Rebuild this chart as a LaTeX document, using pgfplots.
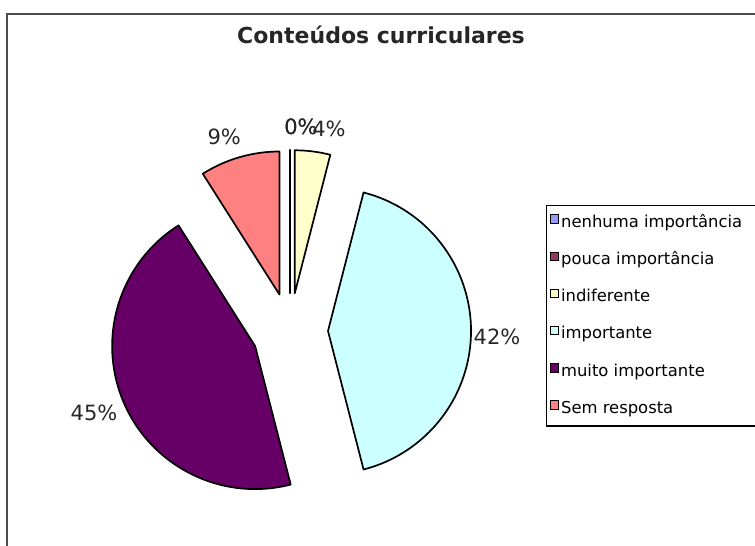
\documentclass[border=0pt]{standalone}
\usepackage{fontspec}
\setmainfont{DejaVu Sans}
\usepackage{pgfplots}
\usepackage{pgfplotstable}
\pgfplotsset{compat=1.18}
\usetikzlibrary{calc}

% Excel 2003 default pie colours
\definecolor{sc0}{HTML}{9999FF}
\definecolor{sc1}{HTML}{993366}
\definecolor{sc2}{HTML}{FFFFCC}
\definecolor{sc3}{HTML}{CCFFFF}
\definecolor{sc4}{HTML}{660066}
\definecolor{sc5}{HTML}{FF8080}

% share of answers, clockwise from 12 o'clock; lx/ly nudge the labels (pt)
\pgfplotstableread{
value col lx   ly
0     sc0 5.5  -1.5
0     sc1 5.5  -1.5
4     sc2 6.5  -1.5
42    sc3 0    -3
45    sc4 -3   0
9     sc5 -4   -2.5
}\piedata

\begin{document}
\begin{tikzpicture}
\useasboundingbox (0,0) rectangle (377.5pt,273pt);
\clip (0,0) rectangle (377.5pt,273pt);
\begin{axis}[
    at={(0,0)}, anchor=south west,
    scale only axis, width=377.5pt, height=273pt,
    xmin=0, xmax=755, ymin=0, ymax=546,
    hide axis, clip=false,
    legend style={at={(0.7232,0.6245)}, anchor=north west,
        draw=black, line width=0.7pt, fill=white,
        font=\fontsize{8.2}{9.8}\selectfont,
        row sep=9.1pt, inner xsep=1.5pt, inner ysep=3.8pt,
        nodes={inner sep=1pt, text height=6pt, text depth=1.5pt}},
    legend cell align=left,
    legend image code/.code={\draw[#1, draw=black, line width=0.5pt] (0pt,-0.2pt) rectangle (4.2pt,4pt);},
]
    \addlegendimage{fill=sc0}\addlegendentry{nenhuma importância\rule{14pt}{0pt}}
    \addlegendimage{fill=sc1}\addlegendentry{pouca importância}
    \addlegendimage{fill=sc2}\addlegendentry{indiferente}
    \addlegendimage{fill=sc3}\addlegendentry{importante}
    \addlegendimage{fill=sc4}\addlegendentry{muito importante}
    \addlegendimage{fill=sc5}\addlegendentry{Sem resposta}

    % chart frame (runs off the right and bottom)
    \draw[gray!60!black, line width=0.75pt] (axis cs:7,-5) -- (axis cs:7,532) -- (axis cs:770,532);

    \node[font=\bfseries\fontsize{11}{13}\selectfont, text=black!85] at (axis cs:381,511) {Conteúdos curriculares};

    % exploded pie
    \def\cx{290}\def\cy{215}
    \def\rad{71.5pt}\def\expl{19pt}\def\lab{84.5pt}
    \pgfplotsextra{
        \pgfplotstablegetrowsof{\piedata}
        \pgfmathtruncatemacro\nrows{\pgfplotsretval-1}
        \gdef\cum{0}
        \foreach \i in {0,...,\nrows}{
            \pgfplotstablegetelem{\i}{value}\of\piedata
            \pgfmathtruncatemacro\v{\pgfplotsretval}
            \pgfplotstablegetelem{\i}{col}\of\piedata
            \let\col\pgfplotsretval
            \pgfplotstablegetelem{\i}{lx}\of\piedata
            \let\lx\pgfplotsretval
            \pgfplotstablegetelem{\i}{ly}\of\piedata
            \let\ly\pgfplotsretval
            \pgfmathsetmacro\sa{90-3.6*\cum}
            \pgfmathsetmacro\ea{90-3.6*(\cum+\v)}
            \pgfmathsetmacro\ma{(\sa+\ea)/2}
            \filldraw[fill=\col, draw=black, line width=0.85pt, line join=round]
                ($(axis cs:\cx,\cy)+(\ma:\expl)$) -- ++(\sa:\rad)
                arc[start angle=\sa, end angle=\ea, radius=\rad] -- cycle;
            \node[font=\fontsize{10.5}{12}\selectfont, text=black!85]
                at ($(axis cs:\cx,\cy)+(\ma:\expl)+(\ma:\lab)+(\lx pt,\ly pt)$) {\v\%};
            \pgfmathtruncatemacro\newcum{\cum+\v}
            \xdef\cum{\newcum}
        }
    }
\end{axis}
\end{tikzpicture}
\end{document}
